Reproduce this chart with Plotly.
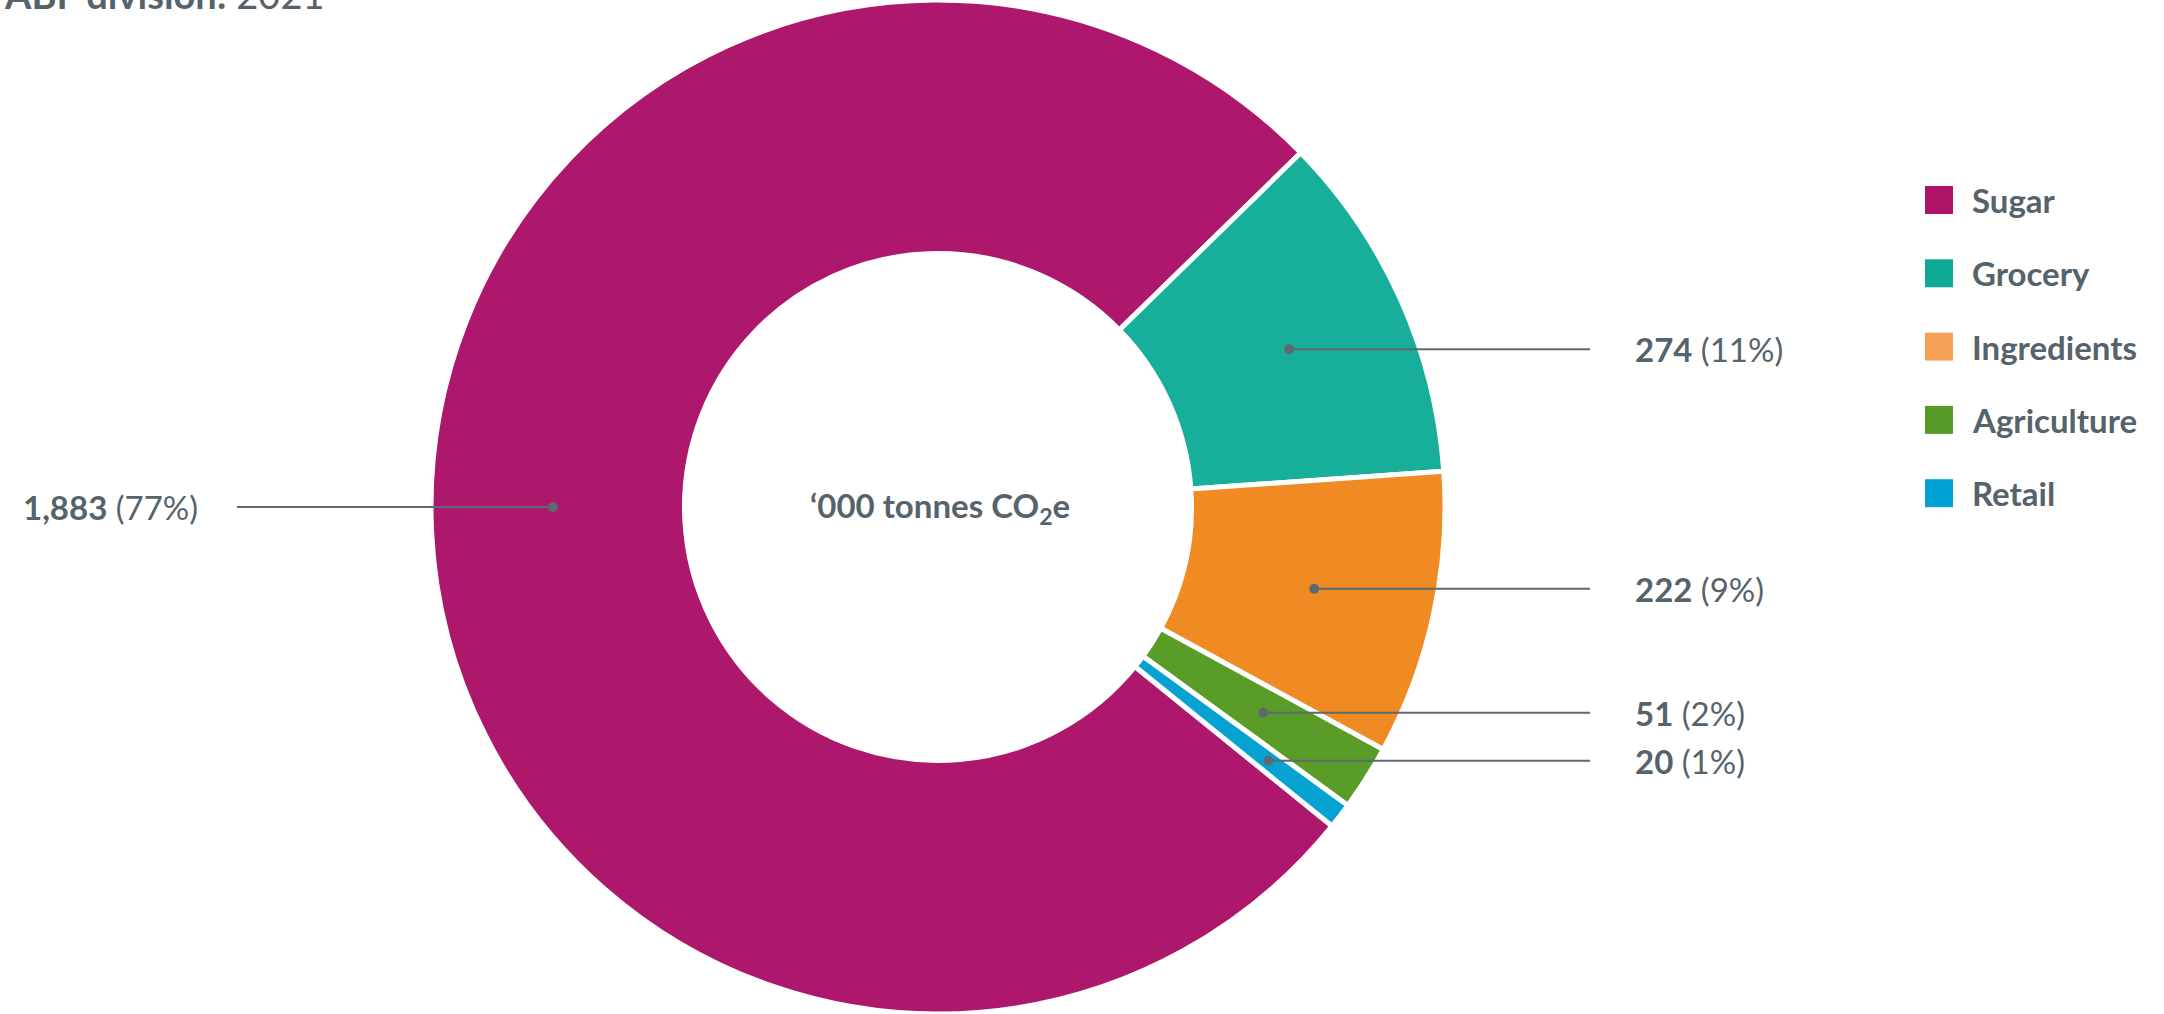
import math
import plotly.graph_objects as go

# ---- data ----
categories = ["Sugar", "Grocery", "Ingredients", "Agriculture", "Retail"]
values = [1883, 274, 222, 51, 20]
percents = [77, 11, 9, 2, 1]
slice_colors = ["#AE186C", "#18AF9A", "#EF8B22", "#5A9C28", "#06A2D2"]
legend_colors = ["#AD1468", "#0FAA96", "#F5A256", "#579A27", "#00A2D6"]
center_label = "<b>‘000 tonnes CO<sub>2</sub>e</b>"
title_text = "<b>ABF division:</b> 2021"

W, H = 2164, 1014
TXT = "#56636B"
LINE = "#5E6A71"
FONT = "Lato"
FS = 33

cx, cy, R = 938, 507, 507
rotation = 129

fig = go.Figure()
fig.add_trace(go.Pie(
    labels=categories, values=values, sort=False, direction="clockwise",
    rotation=rotation, hole=0.5,
    marker=dict(colors=slice_colors, line=dict(color="white", width=5)),
    textinfo="none", hoverinfo="label+value+percent", showlegend=False,
    domain=dict(x=[(cx - R) / W, (cx + R) / W], y=[0, 1]),
))

def px(x):
    return x / W

def py(y):
    return 1 - y / H

shapes = []
annotations = []
total = sum(values)
start = rotation
prev_right_y = -1e9
MIN_GAP = 48
for i, (cat, v, p) in enumerate(zip(categories, values, percents)):
    span = v / total * 360
    a0, a1 = start, start + span
    start += span
    mid_deg = (a0 + a1) / 2
    # left-side label attaches at the leftmost point if the slice covers it
    if any(a0 <= t <= a1 for t in (270, 630)):
        mid_deg = 270
    mid = math.radians(mid_deg)
    r = 385
    dx = cx + r * math.sin(mid)
    dy = cy - r * math.cos(mid)
    label = f"<b>{v:,}</b> ({p}%)"
    right = math.sin(mid) >= 0
    if right:
        if dy < prev_right_y + MIN_GAP:
            dy = prev_right_y + MIN_GAP
            r = (dy - cy) / (-math.cos(mid))
            dx = cx + r * math.sin(mid)
        prev_right_y = dy
        x_end, x_txt, anchor = 1590, 1633, "left"
    else:
        x_end, x_txt, anchor = 237, 200, "right"
    shapes.append(dict(type="line", xref="paper", yref="paper",
                       x0=px(dx), y0=py(dy), x1=px(x_end), y1=py(dy),
                       line=dict(color=LINE, width=2)))
    annotations.append(dict(x=px(x_txt), y=py(dy), xref="paper", yref="paper",
                            text=label, showarrow=False, xanchor=anchor,
                            yanchor="middle", font=dict(size=FS, color=TXT, family=FONT)))
    rd = 5
    shapes.append(dict(type="circle", xref="paper", yref="paper",
                       x0=px(dx - rd), x1=px(dx + rd), y0=py(dy - rd), y1=py(dy + rd),
                       fillcolor=LINE, line=dict(width=0)))

# custom legend
for i, (cat, col) in enumerate(zip(categories, legend_colors)):
    yc = 200 + i * 73.3
    shapes.append(dict(type="rect", xref="paper", yref="paper",
                       x0=px(1925), x1=px(1953), y0=py(yc - 14), y1=py(yc + 14),
                       fillcolor=col, line=dict(width=0)))
    annotations.append(dict(x=px(1970), y=py(yc), xref="paper", yref="paper",
                            text=f"<b>{cat}</b>", showarrow=False, xanchor="left",
                            yanchor="middle", font=dict(size=FS, color=TXT, family=FONT)))

annotations.append(dict(x=px(cx + 2), y=py(cy), xref="paper", yref="paper",
                        text=center_label, showarrow=False, xanchor="center",
                        yanchor="middle", font=dict(size=FS, color=TXT, family=FONT)))
annotations.append(dict(x=px(2), y=py(19), xref="paper", yref="paper",
                        text=title_text, showarrow=False, xanchor="left",
                        yanchor="bottom", font=dict(size=38, color=TXT, family=FONT)))

fig.update_layout(
    width=W, height=H, margin=dict(l=0, r=0, t=0, b=0),
    paper_bgcolor="white", plot_bgcolor="white",
    shapes=shapes, annotations=annotations, showlegend=False,
)
fig.write_html("out.html")
